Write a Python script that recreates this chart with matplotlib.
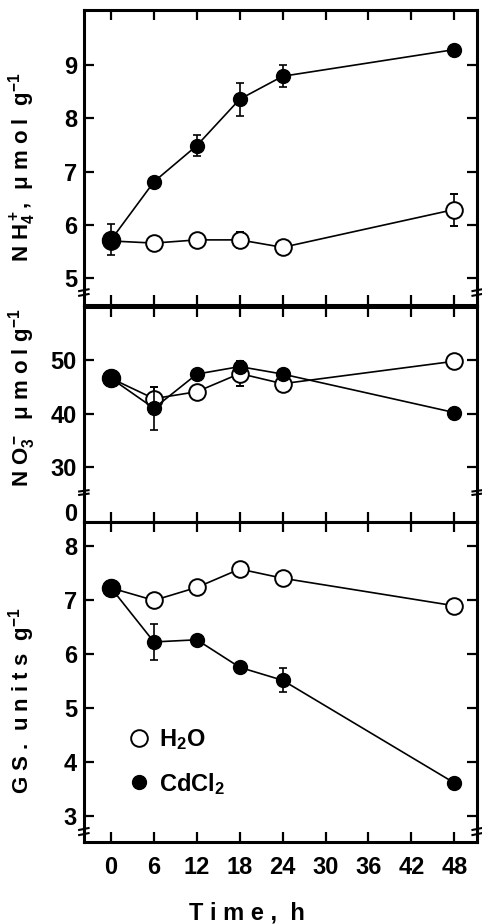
import matplotlib
matplotlib.use("Agg")
import matplotlib.pyplot as plt

plt.rcParams['font.family'] = ['Liberation Sans', 'DejaVu Sans']
plt.rcParams['font.weight'] = 'bold'
plt.rcParams['mathtext.fontset'] = 'custom'
plt.rcParams['mathtext.rm'] = 'Liberation Sans:bold'
plt.rcParams['mathtext.bf'] = 'Liberation Sans:bold'
plt.rcParams['mathtext.it'] = 'Liberation Sans:bold'
plt.rcParams['mathtext.default'] = 'bf'

# sampling times (h)
time = [0, 6, 12, 18, 24, 48]

# NH4+ content, umol g-1
nh4_h2o = [5.70, 5.66, 5.72, 5.72, 5.58, 6.29]
nh4_h2o_err = [0.0, 0.10, 0.0, 0.15, 0.0, 0.30]
nh4_cd = [5.72, 6.81, 7.49, 8.36, 8.79, 9.29]
nh4_cd_err = [0.29, 0.0, 0.20, 0.31, 0.21, 0.0]

# NO3- content, umol g-1
no3_h2o = [46.6, 42.8, 44.1, 47.5, 45.6, 49.8]
no3_h2o_err = [0.0, 2.2, 0.0, 2.4, 0.0, 0.0]
no3_cd = [46.6, 41.0, 47.4, 48.8, 47.4, 40.2]
no3_cd_err = [0.0, 4.0, 0.0, 0.0, 0.0, 0.0]

# GS activity, units g-1
gs_h2o = [7.22, 6.99, 7.23, 7.57, 7.40, 6.89]
gs_h2o_err = [0.0, 0.12, 0.0, 0.0, 0.0, 0.0]
gs_cd = [7.22, 6.22, 6.26, 5.75, 5.51, 3.61]
gs_cd_err = [0.0, 0.33, 0.0, 0.0, 0.22, 0.0]

xticks = [0, 6, 12, 18, 24, 30, 36, 42, 48]

fig = plt.figure(figsize=(4.82, 9.24), dpi=100)
left, width = 0.174, 0.816
ax1 = fig.add_axes([left, 0.670, width, 0.319])
ax2 = fig.add_axes([left, 0.435, width, 0.233])
ax3 = fig.add_axes([left, 0.089, width, 0.346])


def draw(ax, y1, e1, y2, e2):
    ax.errorbar(time, y1, yerr=e1, fmt='o-', color='black', mfc='white',
                mec='black', mew=1.4, ms=12, lw=1.2, elinewidth=1.2,
                capsize=3, capthick=1.2, zorder=3)
    ax.errorbar(time, y2, yerr=e2, fmt='o-', color='black', mfc='black',
                mec='black', ms=10, lw=1.2, elinewidth=1.2,
                capsize=3, capthick=1.2, zorder=4)
    # shared starting point is drawn as one large filled dot
    ax.plot(time[0], y2[0], 'o', color='black', ms=13, zorder=5)


def style(ax):
    ax.set_xlim(-3.8, 51.2)
    ax.set_xticks(xticks)
    for s in ax.spines.values():
        s.set_linewidth(2.2)
    ax.tick_params(direction='in', length=7, width=1.6, top=True,
                   right=True, labelsize=17, pad=5)
    ax.tick_params(axis='x', labelbottom=False)


def breaks(ax, y):
    # small broken-axis marks on both side spines
    for x in (0, 1):
        ax.plot([x - 0.012, x + 0.012], [y + 0.012, y + 0.018], transform=ax.transAxes,
                color='black', lw=1.5, clip_on=False, zorder=6)
        ax.plot([x - 0.012, x + 0.012], [y - 0.004, y + 0.002], transform=ax.transAxes,
                color='black', lw=1.5, clip_on=False, zorder=6)


draw(ax1, nh4_h2o, nh4_h2o_err, nh4_cd, nh4_cd_err)
style(ax1)
ax1.set_ylim(4.5, 10.03)
ax1.set_yticks([5, 6, 7, 8, 9])
breaks(ax1, 0.035)

draw(ax2, no3_h2o, no3_h2o_err, no3_cd, no3_cd_err)
style(ax2)
ax2.set_ylim(19.7, 60)
# broken axis: the lowest label stands for zero
ax2.set_yticks([21.6, 30, 40, 50], labels=['0', '30', '40', '50'])
ax2.get_yticklines()[0].set_visible(False)
ax2.get_yticklines()[1].set_visible(False)
breaks(ax2, 0.13)

draw(ax3, gs_h2o, gs_h2o_err, gs_cd, gs_cd_err)
style(ax3)
ax3.set_ylim(2.52, 8.44)
ax3.set_yticks([3, 4, 5, 6, 7, 8])
ax3.tick_params(axis='x', labelbottom=True, pad=10)
breaks(ax3, 0.025)

leg_h = ax3.plot([], [], 'o', mfc='white', mec='black', mew=1.4, ms=12)[0]
leg_c = ax3.plot([], [], 'o', mfc='black', mec='black', ms=10)[0]
ax3.legend([leg_h, leg_c], ['H$_2$O', 'CdCl$_2$'], loc='lower left',
           bbox_to_anchor=(0.05, 0.075), frameon=False, fontsize=17,
           handletextpad=0.25, labelspacing=0.8, handlelength=1.2)

fig.text(0.045, 0.819, 'N H$_4^+$,  μ m o l  g$^{-1}$', rotation=90,
         ha='center', va='center', fontsize=16)
fig.text(0.045, 0.570, 'N O$_3^-$  μ m o l g$^{-1}$', rotation=90,
         ha='center', va='center', fontsize=16)
fig.text(0.045, 0.242, 'G S .  u n i t s  g$^{-1}$', rotation=90,
         ha='center', va='center', fontsize=16)
fig.text(0.512, 0.012, 'T i m e ,  h', ha='center', va='center', fontsize=17)

fig.savefig("out.png", dpi=100)
